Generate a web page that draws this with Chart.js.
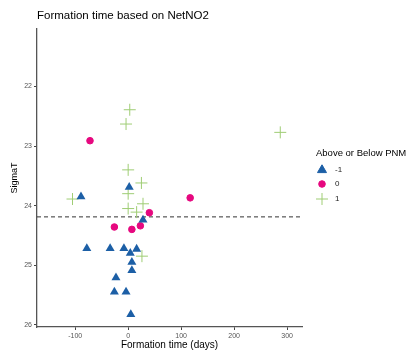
<!DOCTYPE html>
<html>
<head>
<meta charset="utf-8">
<script src="https://cdn.jsdelivr.net/npm/chart.js@4.4.0/dist/chart.umd.min.js"></script>
<style>
html, body { margin: 0; padding: 0; background: #fff; }
#wrap { width: 408px; height: 352px; position: relative; }
</style>
</head>
<body>
<div id="wrap"><canvas id="mycanvas"></canvas></div>
<script>
// values
var groups = ['-1', '0', '1'];
var belowX = [2, -89, 28, -78, -34, -8, 4, 16, 7, 7, -23, -26, -4, 5];
var belowY = [23.69, 23.85, 24.24, 24.72, 24.72, 24.72, 24.8, 24.73, 24.95, 25.09, 25.21, 25.45, 25.45, 25.83];
var zeroX = [-72, 117, 40, -26, 7, 23];
var zeroY = [22.91, 23.87, 24.12, 24.36, 24.40, 24.34];
var aboveX = [3, -4, 0, 25, 0, -105, 28, 0, 16, 26, 287];
var aboveY = [22.39, 22.63, 23.4, 23.62, 23.8, 23.89, 23.97, 24.05, 24.11, 24.85, 22.77];
var pnmLine = 24.19;
var xTicks = [-100, 0, 100, 200, 300];
var yTicks = [22, 23, 24, 25, 26];
var xRange = [-172, 328];
var yRange = [21.03, 26.04];

var colors = ['#1c5fa6', '#e6087f', '#9fcd74'];
var shapes = ['triangle', 'circle', 'cross'];
var radii = [5.2, 3.3, 6];
var font = "'Liberation Sans', Arial, sans-serif";

function pts(xs, ys) {
	var out = [];
	for (var i in xs) {
		out.push({x: xs[i], y: ys[i]});
	}
	return out;
}

function fixedTicks(list) {
	return function(scale) {
		scale.ticks = list.map(function(v) { return {value: v}; });
	};
}

var chartdata = {
	datasets: [
		{
			label: groups[0],
			data: pts(belowX, belowY),
			pointStyle: shapes[0],
			pointRadius: radii[0],
			backgroundColor: colors[0],
			borderColor: colors[0],
			borderWidth: 0
		},
		{
			label: groups[1],
			data: pts(zeroX, zeroY),
			pointStyle: shapes[1],
			pointRadius: radii[1],
			backgroundColor: colors[1],
			borderColor: colors[1],
			borderWidth: 1
		},
		{
			label: groups[2],
			data: pts(aboveX, aboveY),
			pointStyle: shapes[2],
			pointRadius: radii[2],
			backgroundColor: colors[2],
			borderColor: colors[2],
			borderWidth: 1
		},
		{
			label: 'PNM',
			data: [{x: xRange[0], y: pnmLine}, {x: xRange[1], y: pnmLine}],
			showLine: true,
			pointRadius: 0,
			borderColor: '#333333',
			borderWidth: 1,
			borderDash: [4, 3]
		}
	]
};

// legend drawn at the right like the ggplot one
var sideLegend = {
	id: 'sideLegend',
	afterDraw: function(chart) {
		var ctx = chart.ctx;
		ctx.save();
		ctx.fillStyle = '#000';
		ctx.textBaseline = 'middle';
		ctx.textAlign = 'left';
		ctx.font = '9.5px ' + font;
		ctx.fillText('Above or Below PNM', 316, 153);
		var ys = [170, 184, 199];
		ctx.font = '8px ' + font;
		for (var i = 0; i < groups.length; i++) {
			ctx.fillStyle = colors[i];
			ctx.strokeStyle = colors[i];
			ctx.lineWidth = 1;
			Chart.helpers.drawPoint(ctx, {pointStyle: shapes[i], radius: radii[i], rotation: 0, borderWidth: 1}, 322, ys[i]);
			ctx.fillStyle = '#222';
			ctx.fillText(groups[i], 335, ys[i]);
		}
		ctx.restore();
	}
};

var ctx = document.getElementById('mycanvas');

var scatter = new Chart(ctx, {
	type: 'scatter',
	data: chartdata,
	plugins: [sideLegend],
	options: {
		responsive: true,
		maintainAspectRatio: false,
		animation: false,
		layout: {padding: {left: 0, right: 106, top: 0, bottom: 0}},
		plugins: {
			legend: {display: false},
			tooltip: {enabled: false},
			title: {
				display: true,
				text: 'Formation time based on NetNO2',
				align: 'start',
				fullSize: false,
				color: '#000',
				font: {family: font, size: 11.5, weight: 'normal'},
				padding: {top: 9, bottom: 6}
			}
		},
		scales: {
			x: {
				type: 'linear',
				min: xRange[0],
				max: xRange[1],
				afterBuildTicks: fixedTicks(xTicks),
				afterFit: function(s) { s.height = 25; },
				ticks: {color: '#555', font: {family: font, size: 7}, padding: 2, maxRotation: 0},
				grid: {drawOnChartArea: false, tickLength: 3, color: '#444'},
				border: {display: true, color: '#555', width: 1.3},
				title: {display: true, text: 'Formation time (days)', color: '#000', font: {family: font, size: 10}, padding: {top: 0, bottom: 1}}
			},
			y: {
				type: 'linear',
				reverse: true,
				min: yRange[0],
				max: yRange[1],
				afterBuildTicks: fixedTicks(yTicks),
				afterFit: function(s) { s.width = 37; },
				ticks: {color: '#555', font: {family: font, size: 7}, padding: 2},
				grid: {drawOnChartArea: false, tickLength: 3, color: '#444'},
				border: {display: true, color: '#555', width: 1.3},
				title: {display: true, text: 'SigmaT', color: '#000', font: {family: font, size: 9}, padding: {top: 9, bottom: 0}}
			}
		}
	}
});
</script>
</body>
</html>
